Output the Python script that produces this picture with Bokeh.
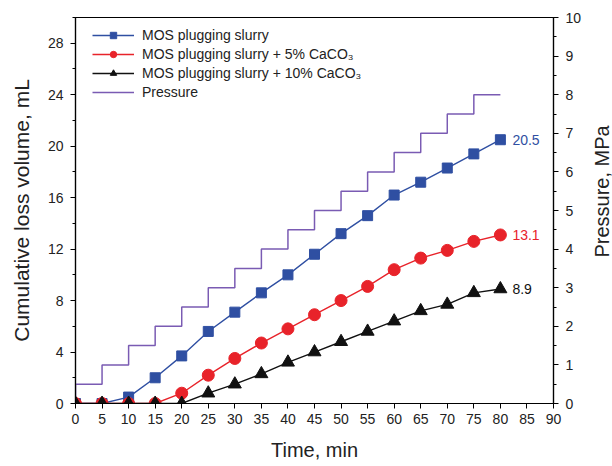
import math
from bokeh.plotting import figure
from bokeh.layouts import row
from bokeh.models import Range1d, LinearAxis, FixedTicker, Legend, LegendItem
from bokeh.core.properties import value
from bokeh.embed import file_html
from bokeh.resources import INLINE

# Time axis (min)
time = [0, 5, 10, 15, 20, 25, 30, 35, 40, 45, 50, 55, 60, 65, 70, 75, 80]

# Cumulative loss volume (mL)
mos = [0, 0, 0.5, 2.0, 3.7, 5.6, 7.1, 8.6, 10.0, 11.6, 13.2, 14.6, 16.2, 17.2, 18.3, 19.4, 20.5]
mos_5 = [0, 0, 0, 0, 0.8, 2.2, 3.5, 4.7, 5.8, 6.9, 8.0, 9.1, 10.4, 11.3, 11.9, 12.6, 13.1]
mos_10 = [0, 0, 0, 0, 0, 0.8, 1.5, 2.3, 3.2, 4.0, 4.8, 5.6, 6.4, 7.2, 7.7, 8.6, 8.9]

# Stepped confining pressure (MPa)
p_time = [0, 0, 5, 10, 15, 20, 25, 30, 35, 40, 45, 50, 55, 60, 65, 70, 75, 80]
pressure = [0, 0.5, 1.0, 1.5, 2.0, 2.5, 3.0, 3.5, 4.0, 4.5, 5.0, 5.5, 6.0, 6.5, 7.0, 7.5, 8.0, 8.0]

names = ["MOS plugging slurry",
         "MOS plugging slurry + 5% CaCO\u2083",
         "MOS plugging slurry + 10% CaCO\u2083",
         "Pressure"]

BLUE = "#2F4FA2"
RED = "#E8232A"
BLACK = "#111111"
PURPLE = "#7A5BB3"
FONT = "Liberation Sans"
TXT = "#222222"

W, H = 612, 466
SIDE_W = 28            # strip holding the right-hand axis title
BORDER_TOP, BORDER_BOTTOM = 17, 63

p = figure(width=W - SIDE_W, height=H, output_backend="svg", toolbar_location=None,
           x_range=Range1d(0, 90), y_range=Range1d(0, 30),
           min_border_left=75, min_border_right=20, min_border_top=BORDER_TOP,
           min_border_bottom=BORDER_BOTTOM)
p.extra_y_ranges = {"press": Range1d(0, 10)}
p.grid.visible = False
p.outline_line_color = "black"
p.outline_line_width = 1.2
p.background_fill_color = "white"
p.border_fill_color = "white"

def style_axis(ax, label, label_size):
    ax.axis_label = label
    ax.axis_label_text_font = FONT
    ax.axis_label_text_font_size = label_size
    ax.axis_label_text_font_style = "normal"
    ax.axis_label_text_color = TXT
    ax.major_label_text_font = FONT
    ax.major_label_text_font_size = "14px"
    ax.major_label_text_color = TXT
    ax.axis_line_color = "black"
    ax.axis_line_width = 1.2
    ax.major_tick_line_color = "black"
    ax.minor_tick_line_color = "black"
    ax.major_tick_out = 5
    ax.major_tick_in = 0
    ax.minor_tick_out = 3
    ax.minor_tick_in = 0

xa = p.xaxis[0]
style_axis(xa, "Time, min", "20px")
xa.ticker = FixedTicker(ticks=list(range(0, 91, 5)))
xa.minor_tick_line_color = None
xa.major_label_standoff = 5
xa.axis_label_standoff = 12

ya = p.yaxis[0]
style_axis(ya, "Cumulative loss volume, mL", "21px")
ya.ticker = FixedTicker(ticks=list(range(0, 29, 4)), minor_ticks=list(range(0, 31, 2)))
ya.major_label_standoff = 7
ya.axis_label_standoff = 12

ra = LinearAxis(y_range_name="press")
style_axis(ra, None, "20px")
ra.ticker = FixedTicker(ticks=list(range(0, 11)), minor_ticks=[i * 0.5 for i in range(21)])
ra.major_label_standoff = 7
p.add_layout(ra, "right")

# Pressure steps
r_p = p.step(p_time, pressure, mode="after", line_color=PURPLE, line_width=1.5,
             y_range_name="press")

# Loss volume curves
l1 = p.line(time, mos, line_color=BLUE, line_width=1.4)
m1 = p.scatter(time, mos, marker="square", size=10, fill_color=BLUE, line_color=BLUE)
l2 = p.line(time, mos_5, line_color=RED, line_width=1.4)
m2 = p.scatter(time, mos_5, marker="circle", size=12, fill_color=RED, line_color=RED)
l3 = p.line(time, mos_10, line_color=BLACK, line_width=1.4)
m3 = p.scatter(time, mos_10, marker="triangle", size=13, fill_color=BLACK, line_color=BLACK)

# End-point value labels
for series, color in [(mos, BLUE), (mos_5, RED), (mos_10, BLACK)]:
    p.text(x=[time[-1]], y=[series[-1]], text=[f"{series[-1]}"],
           x_offset=12, text_baseline="middle", text_align="left",
           text_font=value(FONT), text_font_size="14px", text_color=color)

legend = Legend(items=[
    LegendItem(label=names[0], renderers=[l1, m1]),
    LegendItem(label=names[1], renderers=[l2, m2]),
    LegendItem(label=names[2], renderers=[l3, m3]),
    LegendItem(label=names[3], renderers=[r_p]),
], location=(17, 303))
legend.border_line_color = None
legend.background_fill_alpha = 0
legend.margin = 0
legend.padding = 10
legend.spacing = 3
legend.glyph_width = 42
legend.glyph_height = 16
legend.label_height = 16
legend.label_standoff = 8
legend.label_text_font = FONT
legend.label_text_font_size = "14px"
legend.label_text_color = TXT
p.add_layout(legend, "center")

# Narrow strip with the right-hand axis title, reading bottom to top
side = figure(width=SIDE_W, height=H, output_backend="svg", toolbar_location=None,
              x_range=Range1d(0, SIDE_W), y_range=Range1d(0, H),
              min_border=0, outline_line_color=None)
side.axis.visible = False
side.grid.visible = False
side.border_fill_color = "white"
side.text(x=[17], y=[H - (BORDER_TOP + (H - BORDER_TOP - BORDER_BOTTOM) / 2)],
          text=["Pressure, MPa"], angle=math.pi / 2, text_align="center",
          text_baseline="middle", text_font=value(FONT), text_font_size="20px",
          text_color=TXT)

layout = row(p, side, spacing=0)

open("out.html", "w").write(file_html(layout, INLINE))
